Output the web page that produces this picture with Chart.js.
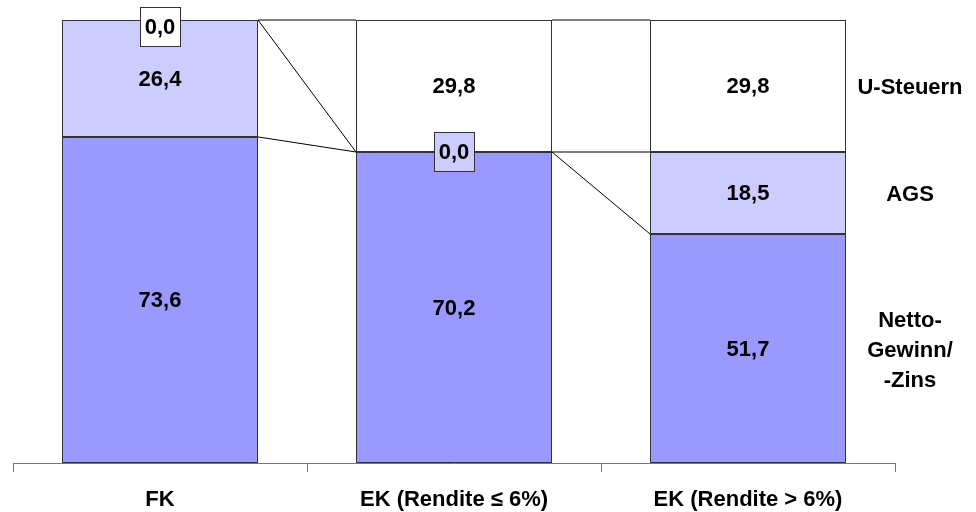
<!DOCTYPE html>
<html lang="de">
<head>
    <meta charset="UTF-8">
    <title>FK / EK Belastung</title>
    <script src="https://cdn.jsdelivr.net/npm/chart.js"></script>
    <style>
        html, body { margin: 0; padding: 0; background: #ffffff; }
        .chart-box { position: relative; width: 976px; height: 512px; }
    </style>
</head>
<body>
    <div class="chart-box">
        <canvas id="belastungChart"></canvas>
    </div>

    <script>
        // Daten
        const categories = ['FK', 'EK (Rendite ≤ 6%)', 'EK (Rendite > 6%)'];
        const nettoValues = [73.6, 70.2, 51.7];
        const agsValues = [26.4, 0.0, 18.5];
        const steuernValues = [0.0, 29.8, 29.8];
        const seriesNames = ['Netto-\nGewinn/\n-Zins', 'AGS', 'U-Steuern'];

        const labelFont = 'bold 22px "Liberation Sans", Arial, sans-serif';
        const edgeColor = '#333333';

        // Wertbeschriftungen, Verbindungslinien und Reihennamen
        const overlayPlugin = {
            id: 'overlay',
            afterDatasetsDraw(chart) {
                const ctx = chart.ctx;
                const area = chart.chartArea;
                const metas = chart.data.datasets.map((d, i) => chart.getDatasetMeta(i));

                // Reihenlinien zwischen den Säulen
                ctx.save();
                ctx.strokeStyle = '#000000';
                ctx.lineWidth = 1;
                metas.forEach(meta => {
                    for (let j = 0; j < meta.data.length - 1; j++) {
                        const a = meta.data[j], b = meta.data[j + 1];
                        ctx.beginPath();
                        ctx.moveTo(a.x + a.width / 2, a.y);
                        ctx.lineTo(b.x - b.width / 2, b.y);
                        ctx.stroke();
                    }
                });
                ctx.restore();

                // Werte in den Segmenten
                ctx.save();
                ctx.font = labelFont;
                ctx.textAlign = 'center';
                ctx.textBaseline = 'middle';
                chart.data.datasets.forEach((ds, i) => {
                    metas[i].data.forEach((bar, j) => {
                        const v = ds.data[j];
                        const txt = v.toFixed(1).replace('.', ',');
                        let cy = (bar.y + bar.base) / 2;
                        if (v === 0) {
                            cy = Math.max(cy, area.top + 7);
                            const w = 41, h = 40;
                            const bx = Math.round(bar.x - w / 2), by = Math.round(cy - h / 2);
                            ctx.fillStyle = ds.backgroundColor;
                            ctx.fillRect(bx, by, w, h);
                            ctx.strokeStyle = edgeColor;
                            ctx.lineWidth = 1;
                            ctx.strokeRect(bx + 0.5, by + 0.5, w - 1, h - 1);
                        }
                        ctx.fillStyle = '#000000';
                        ctx.fillText(txt, bar.x, cy + 1);
                    });
                });

                // Reihennamen rechts neben der letzten Säule
                ctx.font = 'bold 22px "Liberation Sans", Arial, sans-serif';
                chart.data.datasets.forEach((ds, i) => {
                    const meta = metas[i];
                    const bar = meta.data[meta.data.length - 1];
                    const lines = seriesNames[i].split('\n');
                    const cy = (bar.y + bar.base) / 2;
                    const lh = 30;
                    const x = bar.x + bar.width / 2 + 64;
                    lines.forEach((ln, k) => {
                        ctx.fillText(ln, x, cy + 2 + (k - (lines.length - 1) / 2) * lh);
                    });
                });
                ctx.restore();
            }
        };

        const ctx = document.getElementById('belastungChart').getContext('2d');
        const chart = new Chart(ctx, {
            type: 'bar',
            data: {
                labels: categories,
                datasets: [
                    { label: 'Netto', data: nettoValues, backgroundColor: '#9999FF' },
                    { label: 'AGS', data: agsValues, backgroundColor: '#CCCCFF' },
                    { label: 'U-Steuern', data: steuernValues, backgroundColor: '#FFFFFF' }
                ].map(ds => Object.assign(ds, {
                    borderColor: edgeColor,
                    borderWidth: 1,
                    borderSkipped: false,
                    barPercentage: 196 / 294,
                    categoryPercentage: 1.0
                }))
            },
            options: {
                responsive: true,
                maintainAspectRatio: false,
                animation: false,
                layout: { padding: { left: 13, right: 81, top: 20, bottom: 0 } },
                scales: {
                    x: {
                        stacked: true,
                        afterFit: (scale) => { scale.height = 49; },
                        grid: {
                            offset: true,
                            drawOnChartArea: false,
                            tickLength: 9,
                            color: '#777777'
                        },
                        border: { color: '#777777' },
                        ticks: {
                            color: '#000000',
                            padding: 15,
                            font: { family: '"Liberation Sans", Arial, sans-serif', size: 22, weight: 'bold' }
                        }
                    },
                    y: {
                        stacked: true,
                        display: false,
                        min: 0,
                        max: 100
                    }
                },
                plugins: {
                    legend: { display: false },
                    tooltip: { enabled: false }
                }
            },
            plugins: [overlayPlugin]
        });
    </script>
</body>
</html>
